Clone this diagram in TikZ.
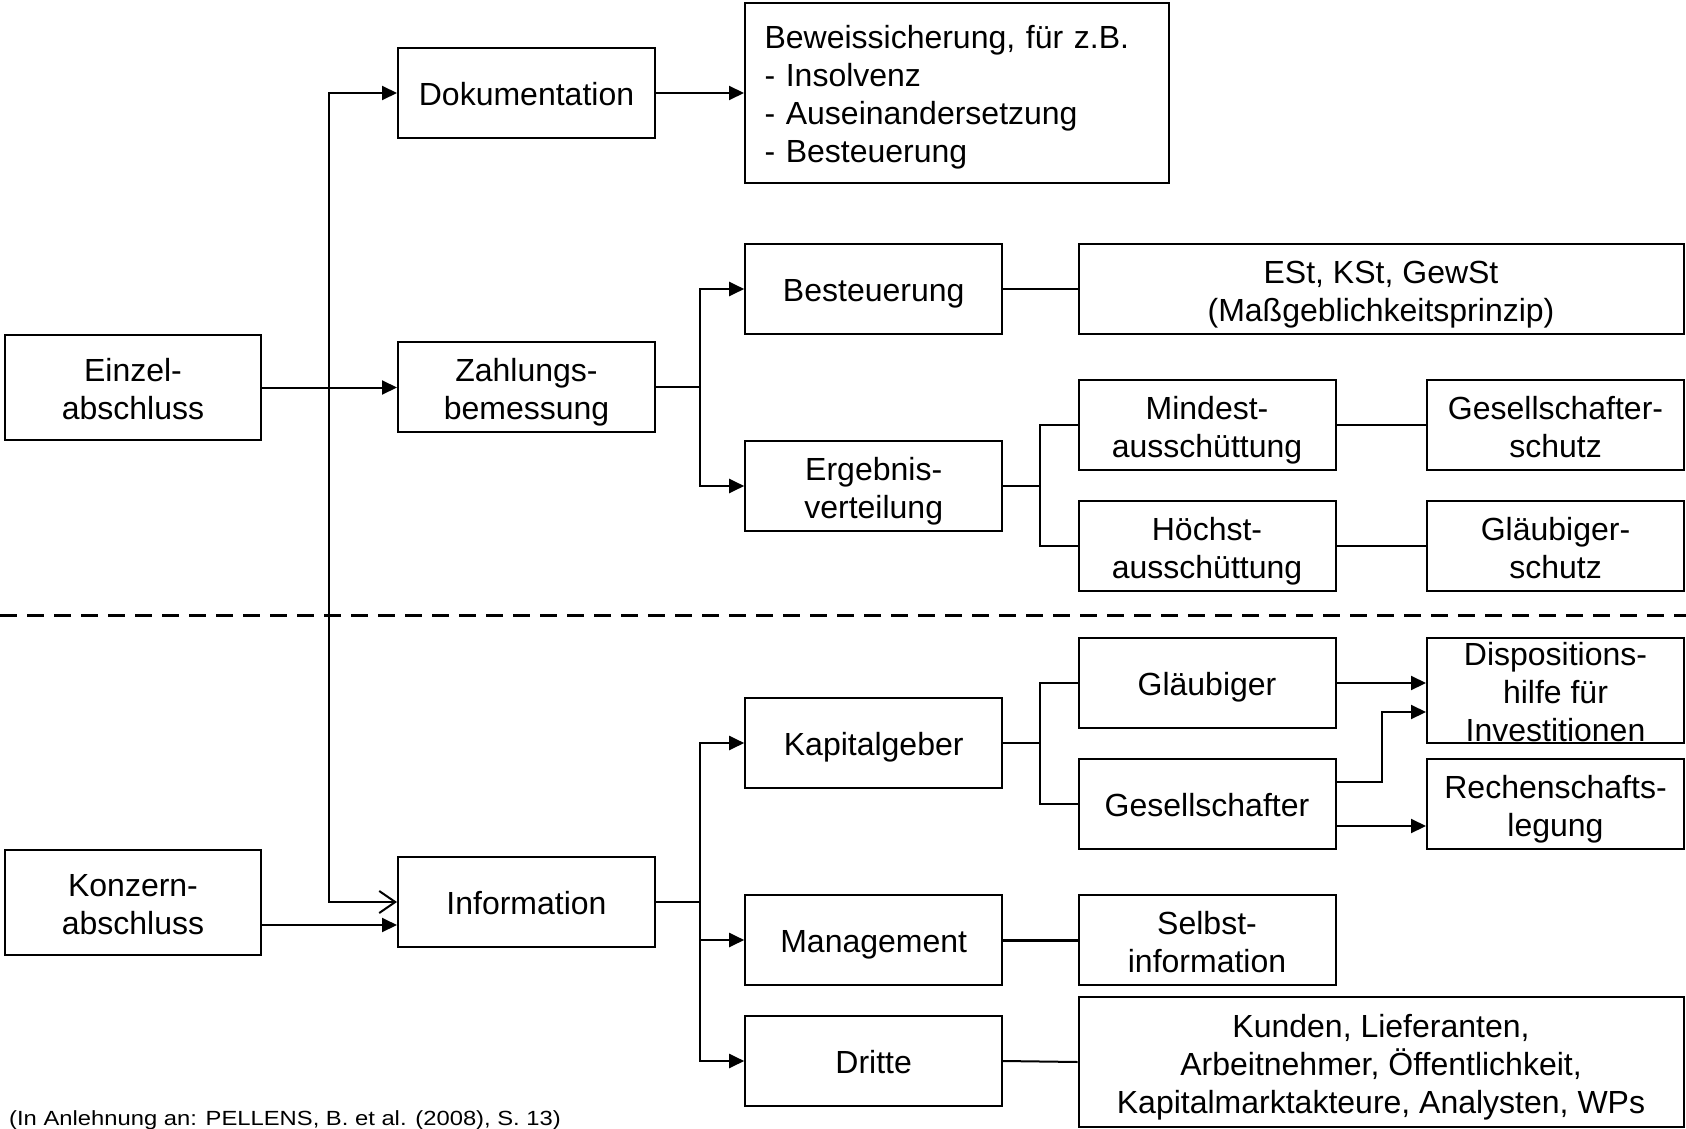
\documentclass[tikz,border=0pt]{standalone}
\usepackage{fontspec}
\usepackage{graphicx}
\setmainfont{Liberation Sans}
\usetikzlibrary{arrows.meta}
\begin{document}
\begin{tikzpicture}[x=1pt,y=-1pt,
  box/.style={draw, line width=2pt, inner sep=0pt, align=center,
    font=\fontsize{32}{38}\selectfont, text height=25pt, text depth=0pt},
  lines2/.style={text height=64pt},
  lines3/.style={text height=102pt},
  std/.style={box, minimum width=257pt, minimum height=90pt},
  conn/.style={line width=2pt},
  arr/.style={conn, -{Triangle[length=15pt,width=14pt]}},
  openarr/.style={conn, -{Straight Barb[length=16pt,width=22pt]}},
]
\useasboundingbox (0,0) rectangle (1686,1129);

% left column
\node[box, lines2, minimum width=256pt, minimum height=105pt] (einzel) at (133,387.5) {Einzel-\\abschluss};
\node[box, lines2, minimum width=256pt, minimum height=105pt] (konzern) at (133,902) {Konzern-\\abschluss};

% purposes
\node[std] (dok) at (526.5,93) {Dokumentation};
\node[std, lines2] (zahl) at (526.5,387) {Zahlungs-\\bemessung};
\node[std] (info) at (526.5,902) {Information};

% documentation branch (text set in a fixed width, baseline on the first line)
\node[box, text height=22pt, text depth=110pt, text width=385pt, align=left, inner xsep=19.5pt, minimum height=180pt] (beweis) at (957,93)
  {Beweissicherung, für z.B.\\- Insolvenz\\- Auseinandersetzung\\- Besteuerung};

% payment branch
\node[std] (best) at (873.7,289) {Besteuerung};
\node[std, lines2] (ergeb) at (873.7,486) {Ergebnis-\\verteilung};
\node[box, lines2, minimum width=605pt, minimum height=90pt] (est) at (1381,289) {ESt, KSt, GewSt\\(Maßgeblichkeitsprinzip)};
\node[std, lines2] (mindest) at (1207,425) {Mindest-\\ausschüttung};
\node[std, lines2] (hoechst) at (1207,546) {Höchst-\\ausschüttung};
\node[std, lines2] (gschutz) at (1555.5,425) {Gesellschafter-\\schutz};
\node[std, lines2] (glschutz) at (1555.5,546) {Gläubiger-\\schutz};

% information branch
\node[std] (kapital) at (873.7,743) {Kapitalgeber};
\node[std] (mgmt) at (873.7,940) {Management};
\node[std] (dritte) at (873.7,1061) {Dritte};
\node[std] (glaeub) at (1207,683) {Gläubiger};
\node[std] (gesell) at (1207,804) {Gesellschafter};
\node[std, lines3, minimum height=105pt] (dispo) at (1555.5,690.5) {Dispositions-\\hilfe für\\Investitionen};
\node[std, lines2] (rechen) at (1555.5,804) {Rechenschafts-\\legung};
\node[std, lines2] (selbst) at (1207,940) {Selbst-\\information};
\node[box, lines3, minimum width=605pt, minimum height=130pt] (kunden) at (1381,1062)
  {Kunden, Lieferanten,\\Arbeitnehmer, Öffentlichkeit,\\Kapitalmarktakteure, Analysten, WPs};

% separator between single and group statements
\draw[line width=3pt, dash pattern=on 17pt off 10pt] (0,615) -- (1686,615);

% source line
\node[anchor=base west, inner sep=0pt, font=\fontsize{20.5}{24}\selectfont] (src) at (9,1125)
  {\scalebox{1.16}[1]{(In Anlehnung an: PELLENS, B. et al. (2008), S. 13)}};

% trunk from the single statement
\coordinate (t0) at (329,387.5);
\draw[arr] (einzel.east) -- (einzel.east -| zahl.west);
\draw[arr] (t0) |- (dok.west);
\draw[openarr] (t0) |- (info.west);
\coordinate (k0) at ([yshift=-23pt]konzern.east);
\draw[arr] (k0) -- (k0 -| info.west);
\draw[arr] (dok.east) -- (beweis.west);

% payment measurement
\coordinate (z0) at (700,387);
\draw[conn] (zahl.east) -- (z0);
\draw[arr] (z0) |- (best.west);
\draw[arr] (z0) |- (ergeb.west);
\draw[conn] (best.east) -- (est.west);
\coordinate (e0) at (1040,486);
\draw[conn] (ergeb.east) -- (e0) |- (mindest.west);
\draw[conn] (e0) |- (hoechst.west);
\draw[conn] (mindest.east) -- (gschutz.west);
\draw[conn] (hoechst.east) -- (glschutz.west);

% information
\coordinate (i0) at (700,902);
\draw[conn] (info.east) -- (i0);
\draw[arr] (i0) |- (kapital.west);
\draw[arr] (i0) |- (mgmt.west);
\draw[arr] (i0) |- (dritte.west);
\coordinate (c0) at (1040,743);
\draw[conn] (kapital.east) -- (c0) |- (glaeub.west);
\draw[conn] (c0) |- (gesell.west);
\draw[arr] (glaeub.east) -- (glaeub.east -| dispo.west);
\coordinate (g0) at ([yshift=22pt]gesell.east);
\coordinate (g1) at (1382,712);
\draw[arr] (g0) -| (g1) -- (g1 -| dispo.west);
\coordinate (g2) at ([yshift=-22pt]gesell.east);
\draw[arr] (g2) -- (g2 -| rechen.west);
\draw[line width=3pt] (mgmt.east) -- (selbst.west);
\draw[conn] (dritte.east) -- (kunden.west);
\end{tikzpicture}
\end{document}
